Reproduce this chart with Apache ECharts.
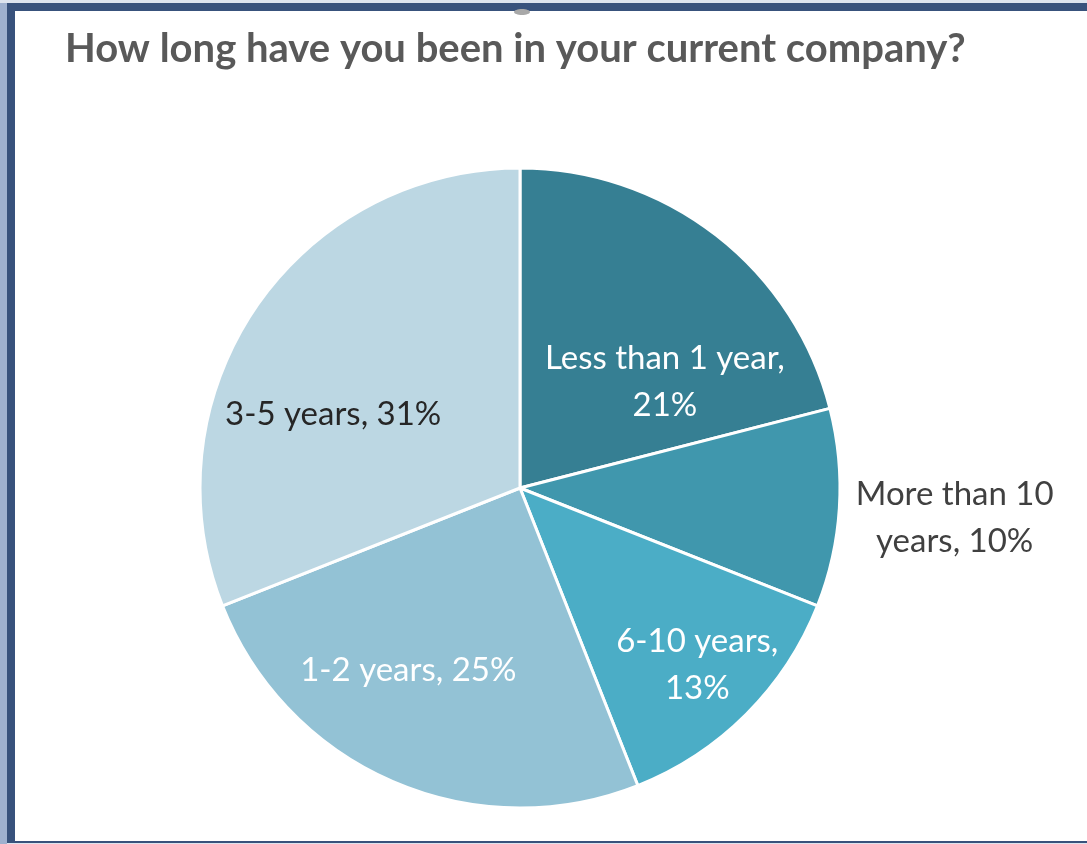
<!DOCTYPE html>
<html>
<head>
<meta charset="utf-8">
<script src="https://cdn.jsdelivr.net/npm/echarts@6/dist/echarts.min.js"></script>
<style>
  html, body { margin: 0; padding: 0; width: 1087px; height: 844px; overflow: hidden; background: #dde4ee; }
  #strip { position: absolute; left: 0; top: 3px; width: 7px; height: 841px; background: #9fb1cf; }
  #frame { position: absolute; left: 7px; top: 3px; width: 1080px; height: 840px; box-sizing: border-box;
           border-left: 8px solid #38527c; border-top: 8px solid #38527c; border-bottom: 2px solid #38527c; background: #ffffff; }
  #chart { position: absolute; left: 0; top: 0; width: 1087px; height: 844px; }
</style>
</head>
<body>
<div id="strip"></div>
<div id="frame"></div>
<div id="chart"></div>
<script>
// Tenure at current company (share of respondents, %)
const categories = ['Less than 1 year', 'More than 10 years', '6-10 years', '1-2 years', '3-5 years'];
const shares = [21, 10, 13, 25, 31];
const sliceColors = ['#367f93', '#4097ad', '#4badc6', '#93c2d5', '#bcd7e3'];
const labelColors = ['#ffffff', '#404040', '#ffffff', '#ffffff', '#262626'];
// Label text as it is wrapped in each slice
const labelTexts = ['Less than 1 year,\n21%', 'More than 10\nyears, 10%', '6-10 years,\n13%', '1-2 years, 25%', '3-5 years, 31%'];
// Nudges from the default inside-label position
const labelOffsets = [[45, 23], [272, 20], [62, 62], [-47, 33], [-52, 18]];

const chart = echarts.init(document.getElementById('chart'));
chart.setOption({
  backgroundColor: 'transparent',
  title: {
    text: 'How long have you been in your current company?',
    left: 60, top: 24,
    textStyle: { fontFamily: 'Lato', fontWeight: 'bold', fontSize: 40, color: '#595959' }
  },
  graphic: [{
    type: 'ellipse', shape: { cx: 522, cy: 12, rx: 8, ry: 3 },
    style: { fill: '#a8a8a8' }, silent: true
  }],
  series: [{
    type: 'pie',
    center: [520, 488],
    radius: [0, 320],
    startAngle: 90,
    clockwise: true,
    animation: false,
    itemStyle: { borderColor: '#ffffff', borderWidth: 3 },
    labelLine: { show: false },
    data: categories.map((name, i) => ({
      name: name,
      value: shares[i],
      itemStyle: { color: sliceColors[i] },
      label: {
        show: true,
        position: 'inside',
        formatter: labelTexts[i],
        offset: labelOffsets[i],
        color: labelColors[i],
        fontFamily: 'Lato',
        fontSize: 33,
        lineHeight: 47,
        align: 'center'
      }
    }))
  }]
});
</script>
</body>
</html>
